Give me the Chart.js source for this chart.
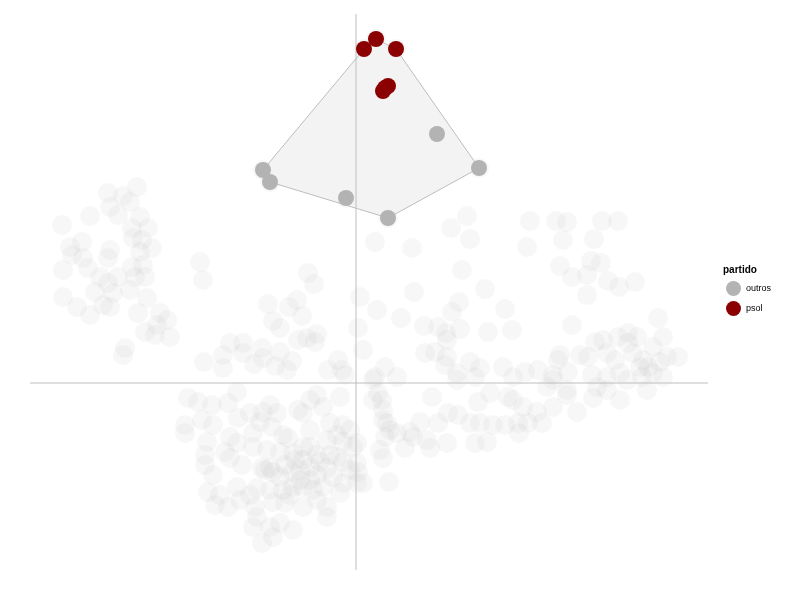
<!DOCTYPE html>
<html>
<head>
<meta charset="utf-8">
<script src="https://cdn.jsdelivr.net/npm/chart.js@4"></script>
<style>
html,body{margin:0;padding:0;background:#fff;}
#wrap{position:relative;width:800px;height:600px;}
#legend{position:absolute;left:723px;top:264px;font-family:"Liberation Sans",Arial,Helvetica,sans-serif;color:#000;}
#legend .title{font-size:10px;font-weight:bold;line-height:12px;margin-bottom:2px;}
#legend .item{display:flex;align-items:center;height:20px;font-size:9px;}
#legend .dot{display:inline-block;width:15px;height:15px;border-radius:50%;margin-left:3px;margin-right:5px;}
</style>
</head>
<body>
<div id="wrap"><canvas id="c" width="800" height="600"></canvas><div id="legend"></div></div>
<script>
// Legend / series
const legendTitle = 'partido';
const seriesNames = ['outros', 'psol'];
const seriesColors = ['#b3b3b3', '#8b0000'];

// Axis ranges (data units, origin = reference lines)
const xRange = [-326, 352];
const yRange = [-187, 369];

// Highlighted deputies
const outrosPoints = [[-93,213],[-86,201],[-10,185],[32,165],[123,215],[81,249]];
const psolPoints = [[8,334],[20,344],[40,334],[27,292],[32,297],[29,295]];

// Convex hull of the highlighted group
const hullPoints = [[-93,213],[8,334],[20,344],[40,334],[123,215],[32,165],[-86,201],[-93,213]];

// Faded background points (all other deputies), grouped by region
const westCluster = [[-219,196],[-248,190],[-233,187],[-226,181],[-246,176],[-238,168],[-266,167],[-216,166],[-294,158],[-208,155],[-224,155],[-223,145],[-214,143],[-204,135],[-286,136],[-274,141],[-284,128],[-273,125],[-246,133],[-248,125],[-216,131],[-213,118],[-224,116],[-293,113],[-268,115],[-238,106],[-256,106],[-248,100],[-221,106],[-211,106],[-261,91],[-243,90],[-226,93],[-209,85],[-293,86],[-279,76],[-253,78],[-246,76],[-266,68],[-218,70],[-196,70],[-189,63],[-199,58],[-211,51],[-201,48],[-186,46],[-156,121],[-153,103],[-231,35],[-233,28]];
const centerCluster = [[-48,110],[-42,99],[4,86],[21,73],[-88,79],[-59,83],[-67,76],[-54,67],[-83,62],[-76,55],[-58,43],[-49,45],[-39,49],[-41,41],[2,55],[7,33],[-126,40],[-113,40],[-94,35],[-76,31],[-133,28],[-113,30],[-93,25],[-64,22],[-152,21],[-133,15],[-102,19],[-81,17],[-69,13],[-18,23],[-28,13],[-14,13],[-11,8],[17,3],[19,141]];
const eastUpper = [[56,135],[95,155],[114,144],[171,136],[106,113],[58,91],[129,94],[45,65],[103,81],[96,71],[68,57],[82,56],[90,50],[104,54],[132,51],[156,53],[149,74],[91,43],[69,30],[79,31],[91,26],[89,18],[114,21],[124,15],[29,16],[41,6],[19,6],[101,10],[119,6],[147,16],[169,11],[157,6],[111,167],[101,3],[197,3],[26,-17]];
const eastLower = [[76,-14],[92,-30],[102,-32],[122,-19],[134,-10],[114,-40],[124,-40],[137,-42],[149,-42],[162,-40],[172,-40],[157,-17],[167,-24],[181,-29],[186,-40],[197,-24],[211,-12],[221,-29],[64,-39],[82,-40],[54,-49],[57,-54],[71,-57],[74,-65],[91,-60],[49,-65],[29,-54],[34,-47],[119,-60],[131,-59],[163,-50],[33,-99],[27,-27],[27,-37],[152,-14],[237,-15],[264,-17]];
const eastCluster = [[174,162],[200,162],[211,161],[246,162],[262,162],[207,143],[238,144],[235,122],[245,120],[204,117],[216,106],[231,108],[252,102],[263,96],[279,101],[231,88],[302,65],[216,58],[307,46],[272,50],[281,46],[247,43],[239,41],[262,46],[272,40],[297,36],[204,28],[202,23],[224,28],[232,26],[251,30],[259,23],[277,30],[287,23],[311,26],[322,26],[304,21],[292,16],[284,16],[182,13],[197,8],[212,11],[236,8],[251,6],[264,10],[271,3],[286,6],[297,10],[307,6],[191,-4],[211,-7],[241,-4],[251,-7],[291,-7]];
const southCluster = [[-168,-15],[-158,-19],[-144,-22],[-119,-9],[-128,-20],[-118,-35],[-171,-42],[-171,-50],[-154,-37],[-143,-42],[-149,-59],[-151,-72],[-151,-82],[-143,-92],[-148,-109],[-136,-112],[-141,-122],[-128,-124],[-131,-69],[-126,-75],[-119,-60],[-114,-82],[-126,-54],[-103,-50],[-96,-39],[-93,-29],[-106,-30],[-86,-22],[-84,-44],[-79,-30],[-73,-52],[-103,-64],[-89,-67],[-76,-69],[-91,-87],[-83,-89],[-76,-94],[-64,-89],[-68,-55],[-63,-70],[-53,-64],[-53,-77],[-46,-64],[-39,-72],[-46,-84],[-39,-92],[-29,-85],[-29,-57],[-19,-52],[-13,-59],[-19,-74],[-13,-79],[-23,-94],[-6,-87],[-13,-100],[-33,-104],[-43,-107],[-53,-104],[-63,-104],[-73,-107],[-86,-107],[-99,-105],[-106,-112],[-119,-104],[-116,-117],[-101,-124],[-83,-119],[-71,-120],[-53,-124],[-39,-117],[-29,-124],[-16,-110],[1,-100],[7,-100],[1,-80],[1,-60],[-6,-47],[-13,-42],[-26,-40],[-46,-47],[-46,-17],[-39,-12],[-33,-24],[-53,-30],[-58,-27],[-16,-14],[-29,-134],[-63,-147],[-76,-140],[-86,-144],[-103,-144],[-99,-134],[-94,-160],[24,-67],[27,-75],[17,-17],[22,-10],[31,-40],[41,-50],[-3,-64],[2,-89],[-83,-154],[-94,-85],[-86,-85],[-71,-82],[-56,-97],[-66,-112],[-46,-97],[-36,-79],[-26,-72],[-56,-87],[-61,-77]];

const toXY = arr => arr.map(p => ({x: p[0], y: p[1]}));
const backgroundPoints = [].concat(westCluster, centerCluster, eastUpper, eastLower, eastCluster, southCluster, outrosPoints, psolPoints);

const refLineColor = '#bebebe';

new Chart(document.getElementById('c'), {
  type: 'scatter',
  data: {
    datasets: [
      {
        label: 'todos',
        data: toXY(backgroundPoints),
        pointRadius: 10,
        pointBackgroundColor: 'rgba(179,179,179,0.1)',
        pointBorderWidth: 0,
        pointBorderColor: 'rgba(0,0,0,0)',
        order: 5
      },
      {
        label: 'hull',
        data: toXY(hullPoints),
        showLine: true,
        fill: 'shape',
        backgroundColor: '#f3f3f3',
        borderColor: '#bdbdbd',
        borderWidth: 1,
        pointRadius: 0,
        tension: 0,
        order: 4
      },
      {
        label: 'vline',
        data: [{x: 0, y: yRange[0]}, {x: 0, y: yRange[1]}],
        showLine: true,
        borderColor: refLineColor,
        borderWidth: 1,
        pointRadius: 0,
        order: 3
      },
      {
        label: 'hline',
        data: [{x: xRange[0], y: 0}, {x: xRange[1], y: 0}],
        showLine: true,
        borderColor: refLineColor,
        borderWidth: 1,
        pointRadius: 0,
        order: 3
      },
      {
        label: seriesNames[0],
        data: toXY(outrosPoints),
        pointRadius: 8,
        pointBackgroundColor: seriesColors[0],
        pointBorderWidth: 0,
        pointBorderColor: 'rgba(0,0,0,0)',
        order: 2
      },
      {
        label: seriesNames[1],
        data: toXY(psolPoints),
        pointRadius: 8,
        pointBackgroundColor: seriesColors[1],
        pointBorderWidth: 0,
        pointBorderColor: 'rgba(0,0,0,0)',
        order: 1
      }
    ]
  },
  options: {
    responsive: false,
    devicePixelRatio: 1,
    animation: false,
    layout: {padding: {left: 30, right: 92, top: 14, bottom: 30}},
    scales: {
      x: {type: 'linear', min: xRange[0], max: xRange[1], display: false},
      y: {type: 'linear', min: yRange[0], max: yRange[1], display: false}
    },
    plugins: {
      legend: {display: false},
      tooltip: {enabled: false}
    },
    events: []
  }
});

// HTML legend built from the series arrays
const lg = document.getElementById('legend');
const t = document.createElement('div');
t.className = 'title';
t.textContent = legendTitle;
lg.appendChild(t);
seriesNames.forEach((name, i) => {
  const it = document.createElement('div');
  it.className = 'item';
  const d = document.createElement('span');
  d.className = 'dot';
  d.style.background = seriesColors[i];
  const s = document.createElement('span');
  s.textContent = name;
  it.appendChild(d);
  it.appendChild(s);
  lg.appendChild(it);
});
</script>
</body>
</html>
